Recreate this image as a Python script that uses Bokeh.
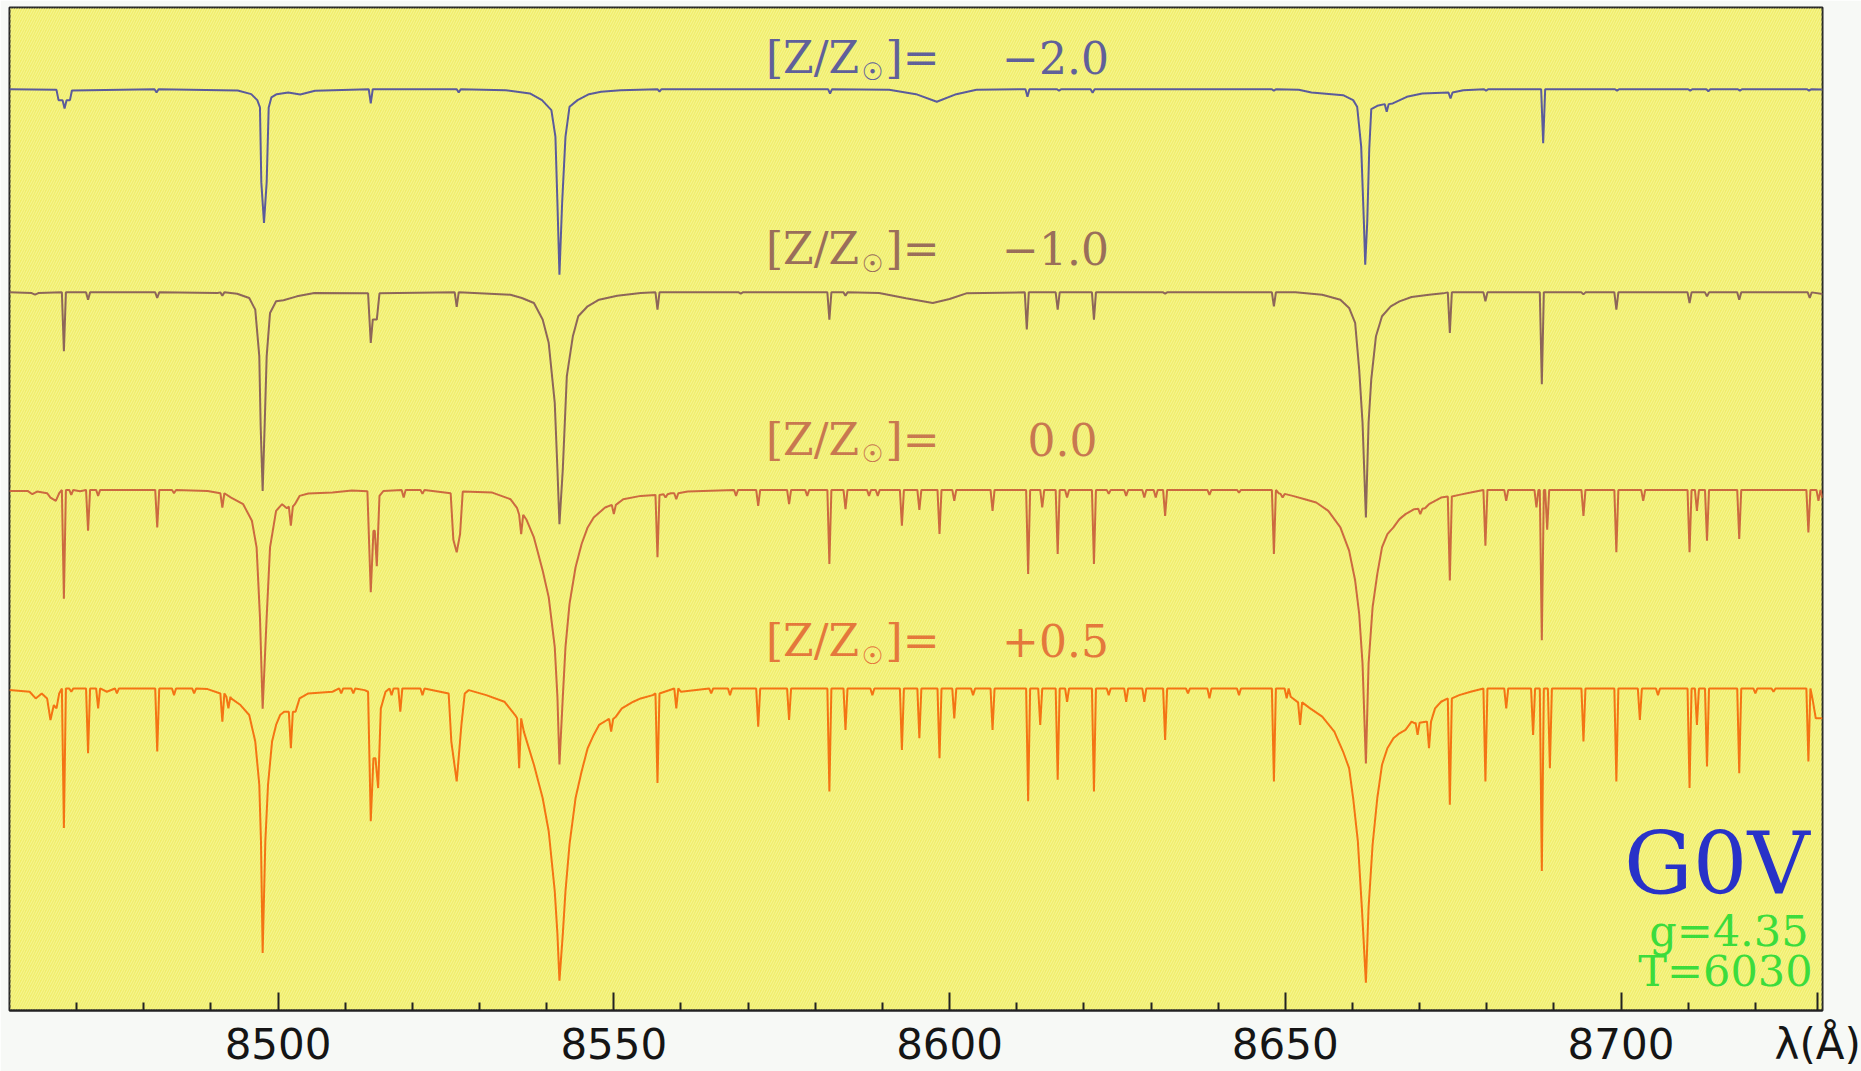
from bokeh.plotting import figure
from bokeh.models import Range1d, FixedTicker, BoxAnnotation, Label
from bokeh.embed import file_html
from bokeh.resources import INLINE

# ------------------------------------------------------------------
# Data: normalized flux (1 = continuum) vs wavelength (Å)
# base_* : continuum and broad profiles (traced vertices)
# lines_*: narrow absorption lines (centre, minimum flux[, local continuum])
# ------------------------------------------------------------------
metallicity_labels = ["\u22122.0", "\u22121.0", "0.0", "+0.5"]
offsets = [1.805, 1.193, 0.598, 0.0]

major_ticks = [8500, 8550, 8600, 8650, 8700]
minor_ticks = [8470, 8480, 8490, 8510, 8520, 8530, 8540, 8560, 8570, 8580, 8590,
               8610, 8620, 8630, 8640, 8660, 8670, 8680, 8690, 8710, 8720]
unit_label = "\u03bb(\u00c5)"

base_m20 = [
    (8460.0, 1.000), (8467.0, 0.998), (8467.3, 0.967), (8469.0, 0.967), (8469.3, 0.996),
    (8494.0, 0.996), (8496.0, 0.985), (8496.9, 0.967), (8497.3, 0.945), (8497.5, 0.720),
    (8497.9, 0.597), (8498.3, 0.720), (8498.6, 0.945), (8499.0, 0.975), (8499.8, 0.985),
    (8501.5, 0.990), (8503.3, 0.984), (8505.5, 0.995),
    (8533.9, 0.997), (8537.5, 0.987), (8539.3, 0.967), (8540.7, 0.937), (8541.3, 0.857),
    (8541.6, 0.657), (8541.9, 0.441), (8542.3, 0.657), (8542.8, 0.857), (8543.4, 0.947),
    (8544.6, 0.967), (8546.3, 0.985), (8548.1, 0.992), (8551.0, 0.997),
    (8591.0, 0.998), (8595.0, 0.985), (8598.1, 0.962), (8601.0, 0.985), (8604.0, 0.998),
    (8652.0, 0.998), (8653.9, 0.990), (8658.6, 0.982), (8660.1, 0.967), (8660.7, 0.947),
    (8661.3, 0.827), (8661.7, 0.600), (8661.9, 0.471), (8662.2, 0.600), (8662.5, 0.820),
    (8662.8, 0.940), (8663.7, 0.950), (8666.0, 0.957), (8668.1, 0.977), (8670.4, 0.987),
    (8676.5, 0.997), (8730.0, 0.999),
]
lines_m20 = [
    (8468.2, 0.942, 0.967), (8481.9, 0.990), (8513.8, 0.957), (8526.9, 0.990),
    (8556.8, 0.993), (8582.2, 0.987), (8611.6, 0.977), (8616.3, 0.995), (8621.3, 0.989),
    (8648.3, 0.995), (8665.1, 0.932, 0.955), (8674.6, 0.972, 0.990), (8679.9, 0.995),
    (8688.4, 0.837), (8699.4, 0.995), (8710.3, 0.995), (8713.0, 0.994), (8717.7, 0.995),
    (8728.0, 0.995),
]

base_m10 = [
    (8460.0, 1.000), (8463.3, 0.998), (8463.8, 0.993), (8464.3, 0.998),
    (8491.0, 0.998), (8493.9, 0.996), (8495.7, 0.983), (8496.6, 0.948), (8497.2, 0.808),
    (8497.4, 0.600), (8497.7, 0.402), (8498.0, 0.600), (8498.3, 0.808), (8498.8, 0.938),
    (8499.7, 0.973), (8500.8, 0.976), (8502.8, 0.988), (8505.4, 0.998),
    (8513.4, 0.997), (8513.8, 0.848), (8514.1, 0.918), (8514.7, 0.918), (8515.1, 0.997),
    (8534.6, 0.993), (8536.3, 0.983), (8538.1, 0.968), (8539.4, 0.918), (8540.3, 0.848),
    (8541.2, 0.668), (8541.6, 0.467), (8541.9, 0.302), (8542.4, 0.467), (8543.0, 0.748),
    (8543.9, 0.868), (8544.7, 0.928), (8546.1, 0.958), (8547.8, 0.978), (8550.5, 0.990),
    (8554.0, 0.998),
    (8589.5, 0.998), (8593.5, 0.982), (8597.5, 0.968), (8600.0, 0.980), (8602.5, 0.997),
    (8651.5, 1.000), (8655.5, 0.993), (8658.2, 0.978), (8659.5, 0.953), (8660.4, 0.908),
    (8661.0, 0.768), (8661.5, 0.608), (8662.0, 0.322), (8662.4, 0.608), (8662.8, 0.738),
    (8663.5, 0.868), (8664.4, 0.928), (8665.7, 0.958), (8667.0, 0.973), (8668.8, 0.986),
    (8671.4, 0.993), (8673.5, 0.997), (8730.0, 0.995),
]
lines_m10 = [
    (8468.1, 0.823), (8471.7, 0.978), (8482.0, 0.983), (8491.7, 0.990), (8526.6, 0.956),
    (8556.5, 0.948), (8568.9, 0.996), (8582.1, 0.918), (8584.5, 0.990), (8611.5, 0.888),
    (8616.1, 0.948), (8621.5, 0.918), (8632.1, 0.996), (8648.3, 0.958), (8674.5, 0.878),
    (8679.8, 0.973), (8688.2, 0.723), (8694.4, 0.994), (8699.3, 0.948), (8710.2, 0.968),
    (8712.8, 0.988), (8717.6, 0.978), (8728.1, 0.983),
]

base_p00 = [
    (8460.0, 0.997), (8462.7, 0.997), (8463.4, 0.987), (8464.1, 0.995), (8465.6, 0.990),
    (8466.1, 0.977), (8466.9, 0.967), (8467.4, 0.990), (8470.5, 0.996),
    (8489.5, 0.997), (8493.0, 0.977), (8494.8, 0.957), (8496.1, 0.907), (8496.8, 0.827),
    (8497.3, 0.617), (8497.7, 0.341), (8498.3, 0.617), (8498.8, 0.827), (8499.7, 0.937),
    (8500.6, 0.957), (8501.3, 0.945), (8502.5, 0.957), (8503.2, 0.982), (8504.5, 0.989),
    (8508.1, 0.992), (8511.0, 0.998),
    (8513.3, 0.996), (8513.8, 0.692), (8514.2, 0.877), (8514.4, 0.877), (8514.7, 0.770),
    (8515.1, 0.982), (8515.7, 0.997),
    (8525.7, 0.990), (8526.1, 0.850), (8526.6, 0.812), (8527.1, 0.867), (8527.5, 0.995),
    (8531.9, 0.992), (8534.6, 0.972), (8535.6, 0.945), (8537.0, 0.910), (8538.1, 0.857),
    (8539.4, 0.757), (8540.3, 0.677), (8541.2, 0.527), (8541.6, 0.376), (8541.9, 0.173),
    (8542.4, 0.376), (8542.8, 0.527), (8543.4, 0.657), (8544.3, 0.767), (8545.2, 0.837),
    (8546.1, 0.887), (8547.0, 0.917), (8548.7, 0.947), (8551.4, 0.972), (8554.0, 0.982),
    (8558.5, 0.990), (8561.0, 0.995),
    (8649.0, 0.990), (8651.1, 0.982), (8652.9, 0.972), (8654.6, 0.962), (8656.4, 0.937),
    (8658.2, 0.887), (8659.5, 0.817), (8660.4, 0.727), (8661.0, 0.627), (8661.5, 0.477),
    (8662.0, 0.176), (8662.4, 0.477), (8663.0, 0.647), (8663.7, 0.747), (8664.4, 0.827),
    (8665.2, 0.867), (8666.1, 0.887), (8667.0, 0.912), (8667.9, 0.927), (8669.2, 0.942),
    (8670.8, 0.945), (8671.4, 0.957), (8673.2, 0.977), (8675.9, 0.985), (8677.6, 0.992),
    (8730.0, 0.975),
]
lines_p00 = [
    (8468.1, 0.672), (8469.2, 0.985), (8471.7, 0.877), (8473.2, 0.982), (8482.0, 0.887),
    (8484.5, 0.990), (8491.7, 0.947, 0.990), (8501.9, 0.892, 0.950), (8518.7, 0.977),
    (8521.5, 0.988), (8536.2, 0.867, 0.925),
    (8550.0, 0.927, 0.955), (8556.5, 0.797, 0.985), (8557.7, 0.977, 0.987),
    (8559.3, 0.972, 0.990), (8568.2, 0.982), (8571.5, 0.952), (8576.1, 0.957),
    (8578.8, 0.982), (8582.1, 0.777), (8584.5, 0.942), (8588.0, 0.982), (8589.3, 0.982),
    (8592.9, 0.892), (8595.5, 0.940), (8598.5, 0.867), (8600.7, 0.967), (8606.4, 0.937),
    (8611.7, 0.747), (8613.8, 0.947), (8616.1, 0.807), (8617.5, 0.977), (8621.5, 0.777),
    (8623.7, 0.988), (8626.3, 0.982), (8629.0, 0.977), (8630.7, 0.977), (8632.1, 0.922),
    (8638.7, 0.985), (8643.1, 0.992),
    (8648.3, 0.807), (8649.6, 0.977, 0.988), (8670.1, 0.927, 0.943), (8674.5, 0.727, 0.980),
    (8679.8, 0.832), (8682.9, 0.967), (8687.4, 0.947), (8688.2, 0.547), (8689.0, 0.880),
    (8694.4, 0.922), (8699.3, 0.812), (8703.3, 0.967), (8710.2, 0.812), (8711.3, 0.937),
    (8712.8, 0.847), (8717.6, 0.852), (8727.9, 0.872), (8729.4, 0.967),
]

base_p05 = [
    (8460.0, 0.995), (8463.0, 0.990), (8463.9, 0.970), (8464.8, 0.985), (8465.6, 0.970),
    (8466.1, 0.905), (8466.6, 0.950), (8467.0, 0.940), (8467.4, 0.985), (8474.5, 0.990),
    (8489.5, 0.998), (8493.0, 0.970), (8494.4, 0.950), (8495.7, 0.920), (8496.6, 0.840),
    (8497.2, 0.710), (8497.45, 0.540), (8497.7, 0.203), (8498.1, 0.540), (8498.5, 0.710),
    (8499.1, 0.840), (8499.7, 0.890), (8500.3, 0.920), (8500.9, 0.930), (8502.6, 0.930),
    (8503.2, 0.970), (8504.5, 0.985), (8508.1, 0.990),
    (8512.9, 0.995), (8513.4, 0.990), (8513.8, 0.600), (8514.2, 0.790), (8514.5, 0.790),
    (8514.9, 0.700), (8515.3, 0.940), (8516.0, 0.990),
    (8525.4, 0.985), (8525.8, 0.840), (8526.6, 0.720), (8527.3, 0.890), (8527.8, 0.985),
    (8528.4, 0.995), (8531.0, 0.980), (8533.7, 0.960), (8535.3, 0.920), (8536.6, 0.870),
    (8537.2, 0.830), (8538.1, 0.770), (8539.4, 0.670), (8540.3, 0.570), (8541.2, 0.390),
    (8541.6, 0.260), (8541.9, 0.120), (8542.4, 0.260), (8542.8, 0.390), (8543.4, 0.530),
    (8544.3, 0.670), (8545.2, 0.750), (8546.1, 0.820), (8547.0, 0.860), (8547.8, 0.890),
    (8549.0, 0.905), (8550.3, 0.915), (8551.2, 0.940), (8552.9, 0.960), (8554.0, 0.970),
    (8555.8, 0.980), (8560.0, 0.990),
    (8650.8, 0.975), (8653.7, 0.940), (8655.5, 0.915), (8657.3, 0.870), (8658.6, 0.810),
    (8659.5, 0.760), (8660.1, 0.670), (8660.8, 0.540), (8661.4, 0.340), (8662.0, 0.114),
    (8662.4, 0.340), (8663.0, 0.530), (8663.7, 0.670), (8664.4, 0.770), (8665.2, 0.820),
    (8666.1, 0.850), (8667.0, 0.865), (8667.9, 0.875), (8668.8, 0.900), (8669.3, 0.895),
    (8670.9, 0.900), (8672.3, 0.940), (8673.2, 0.960), (8675.9, 0.980), (8677.6, 0.990),
    (8728.5, 0.970), (8729.0, 0.910), (8730.0, 0.910),
]
lines_p05 = [
    (8468.1, 0.580), (8469.2, 0.990), (8471.7, 0.805), (8473.2, 0.940), (8476.0, 0.985),
    (8482.0, 0.810), (8484.5, 0.980), (8487.5, 0.985),
    (8491.7, 0.900, 0.985), (8492.6, 0.940, 0.975), (8501.9, 0.820, 0.930), (8509.4, 0.985),
    (8511.2, 0.985), (8516.9, 0.980), (8518.2, 0.930), (8521.5, 0.980), (8535.9, 0.760, 0.910),
    (8549.6, 0.870, 0.908), (8556.5, 0.715, 0.985), (8559.3, 0.940), (8564.5, 0.985),
    (8567.3, 0.980),
    (8571.5, 0.885), (8576.1, 0.905), (8582.1, 0.690), (8584.5, 0.875), (8588.5, 0.980),
    (8592.9, 0.815), (8595.5, 0.850), (8598.5, 0.790), (8600.7, 0.910), (8603.5, 0.980),
    (8606.4, 0.875),
    (8611.7, 0.660), (8613.5, 0.890), (8616.1, 0.725), (8617.5, 0.960), (8621.5, 0.690),
    (8623.7, 0.980), (8626.3, 0.960), (8629.0, 0.960), (8632.1, 0.845), (8635.5, 0.985),
    (8638.7, 0.970), (8643.1, 0.980), (8648.3, 0.720),
    (8650.2, 0.970), (8652.2, 0.890, 0.958), (8669.7, 0.860, 0.897), (8671.4, 0.820, 0.900),
    (8674.5, 0.650, 0.970), (8679.8, 0.720), (8682.9, 0.940), (8686.9, 0.860),
    (8688.2, 0.450), (8689.4, 0.760), (8694.4, 0.840), (8699.3, 0.720), (8702.8, 0.905),
    (8705.5, 0.980), (8710.2, 0.700), (8711.3, 0.890), (8712.8, 0.765), (8717.6, 0.745),
    (8720.0, 0.985), (8722.7, 0.990), (8727.9, 0.780),
]

# ------------------------------------------------------------------
# Layout / style
# ------------------------------------------------------------------
W, H = 1861, 1071
FL, FR, FT, FB = 9, 1822, 7, 1013          # frame edges in page pixels
X0, X1 = 8460.0, 8730.0
Y0, Y1 = 0.030, 3.051
UNIT_TICK = 8729.3                          # where the unit label sits on the axis

line_colors = ["#5b5b9b", "#8d6659", "#cc6a40", "#f47414"]
label_colors = ["#60609a", "#9a6e5a", "#c87850", "#e4783c"]
label_centers = [57, 249, 440, 642]         # vertical centre of each label line (px)
value_centers = [1055, 1055, 1062, 1055]


def dx(px):
    return X0 + (px - FL) * (X1 - X0) / (FR - FL)


def dy(py):
    return Y1 - (py - FT) * (Y1 - Y0) / (FB - FT)


def build(base, lines, hw=0.3):
    pts = [(w, f) for w, f in base]
    for ln in lines:
        c, f = ln[0], ln[1]
        lc = ln[2] if len(ln) > 2 else 1.0
        pts += [(c - hw, lc), (c, f), (c + hw, lc)]
    pts.sort(key=lambda t: t[0])
    return [t[0] for t in pts], [t[1] for t in pts]


p = figure(width=W, height=H, x_range=Range1d(X0, X1), y_range=Range1d(Y0, Y1),
           output_backend="svg", toolbar_location=None, y_axis_location=None,
           min_border_left=FL, min_border_right=W - FR, min_border_top=FT,
           min_border_bottom=H - FB)

p.background_fill_color = "#f0ee6c"
p.border_fill_color = "#f7f9f6"
p.outline_line_color = "#222222"
p.outline_line_width = 2
p.grid.grid_line_color = None

p.add_layout(BoxAnnotation(fill_alpha=0, line_alpha=0, hatch_pattern="/",
                           hatch_color="#fbfbb4", hatch_alpha=0.55, hatch_scale=5,
                           hatch_weight=1, level="underlay"))

ax = p.xaxis[0]
ax.ticker = FixedTicker(ticks=major_ticks + [UNIT_TICK], minor_ticks=minor_ticks)
ax.major_label_overrides = {UNIT_TICK: unit_label}
ax.major_tick_in = 18
ax.major_tick_out = 0
ax.minor_tick_in = 8
ax.minor_tick_out = 0
ax.axis_line_width = 2
ax.axis_line_color = "#222222"
ax.major_tick_line_width = 2
ax.major_tick_line_color = "#222222"
ax.minor_tick_line_width = 2
ax.minor_tick_line_color = "#222222"
ax.major_label_text_font = "DejaVu Sans"
ax.major_label_text_font_size = "42px"
ax.major_label_text_color = "#151515"
ax.major_label_standoff = 9

spectra = [(base_m20, lines_m20), (base_m10, lines_m10),
           (base_p00, lines_p00), (base_p05, lines_p05)]

for (base, lines), off, col in zip(spectra, offsets, line_colors):
    wl, fx = build(base, lines)
    p.line(x=wl, y=[f + off for f in fx], line_color=col, line_width=2)

serif = "DejaVu Serif"
for lab, col, yc, vc in zip(metallicity_labels, label_colors, label_centers, value_centers):
    p.add_layout(Label(x=dx(812), y=dy(yc), text="[Z/Z", text_font=serif,
                       text_font_size="44px", text_color=col, text_align="center",
                       text_baseline="middle"))
    p.add_layout(Label(x=dx(872), y=dy(yc + 15), text="\u2609", text_font="DejaVu Sans",
                       text_font_size="24px", text_color=col, text_align="center",
                       text_baseline="middle"))
    p.add_layout(Label(x=dx(912), y=dy(yc), text="]=", text_font=serif,
                       text_font_size="44px", text_color=col, text_align="center",
                       text_baseline="middle"))
    p.add_layout(Label(x=dx(vc), y=dy(yc), text=lab, text_font=serif,
                       text_font_size="44px", text_color=col, text_align="center",
                       text_baseline="middle"))

p.add_layout(Label(x=dx(1809), y=dy(865), text="G0V", text_font=serif,
                   text_font_size="86px", text_color="#2832c8", text_align="right",
                   text_baseline="middle"))
p.add_layout(Label(x=dx(1808), y=dy(933), text="g=4.35", text_font=serif,
                   text_font_size="43px", text_color="#3cdc3c", text_align="right",
                   text_baseline="middle"))
p.add_layout(Label(x=dx(1812), y=dy(973), text="T=6030", text_font=serif,
                   text_font_size="43px", text_color="#3cdc3c", text_align="right",
                   text_baseline="middle"))

open("out.html", "w").write(file_html(p, INLINE))
